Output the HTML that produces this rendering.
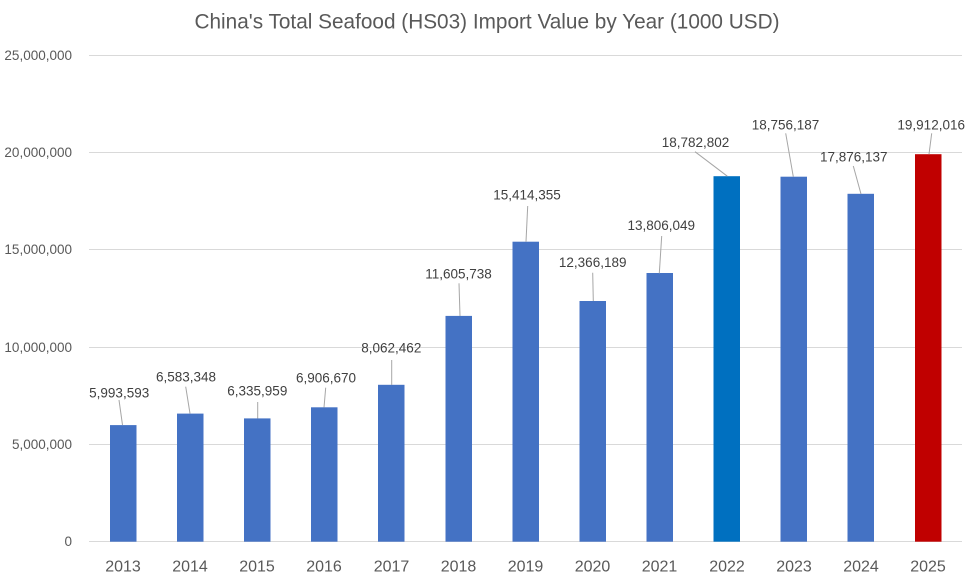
<!DOCTYPE html>
<html>
<head>
<meta charset="utf-8">
<style>
  html,body{margin:0;padding:0;background:#fff;}
  svg{display:block;}
  text{font-family:"Liberation Sans",sans-serif;}
</style>
</head>
<body>
<svg width="971" height="581" viewBox="0 0 971 581" xmlns="http://www.w3.org/2000/svg">
  <rect width="971" height="581" fill="#fff"/>
  <!-- title -->
  <text x="487" y="28.5" font-size="21" fill="#595959" text-anchor="middle" textLength="585" lengthAdjust="spacingAndGlyphs">China's Total Seafood (HS03) Import Value by Year (1000 USD)</text>

  <!-- gridlines -->
  <g stroke="#D9D9D9" stroke-width="1">
    <line x1="89" y1="55.5" x2="962" y2="55.5"/>
    <line x1="89" y1="152.5" x2="962" y2="152.5"/>
    <line x1="89" y1="249.5" x2="962" y2="249.5"/>
    <line x1="89" y1="347.5" x2="962" y2="347.5"/>
    <line x1="89" y1="444.5" x2="962" y2="444.5"/>
    <line x1="89" y1="541.5" x2="962" y2="541.5"/>
  </g>

  <!-- y axis labels -->
  <g font-size="13.5" fill="#595959" text-anchor="end">
    <text x="72" y="60">25,000,000</text>
    <text x="72" y="157">20,000,000</text>
    <text x="72" y="254">15,000,000</text>
    <text x="72" y="352">10,000,000</text>
    <text x="72" y="449">5,000,000</text>
    <text x="72" y="546">0</text>
  </g>

  <!-- bars -->
  <g>
    <rect x="110" y="425.1" width="26.5" height="116.6" fill="#4472C4"/>
    <rect x="177" y="413.6" width="26.5" height="128.1" fill="#4472C4"/>
    <rect x="244" y="418.4" width="26.5" height="123.3" fill="#4472C4"/>
    <rect x="311" y="407.3" width="26.5" height="134.4" fill="#4472C4"/>
    <rect x="378" y="384.8" width="26.5" height="156.9" fill="#4472C4"/>
    <rect x="445.5" y="315.9" width="26.5" height="225.8" fill="#4472C4"/>
    <rect x="512.5" y="241.7" width="26.5" height="300.0" fill="#4472C4"/>
    <rect x="579.5" y="301.0" width="26.5" height="240.7" fill="#4472C4"/>
    <rect x="646.5" y="273.0" width="26.5" height="268.7" fill="#4472C4"/>
    <rect x="713.5" y="176.2" width="26.5" height="365.5" fill="#0070C0"/>
    <rect x="780.5" y="176.7" width="26.5" height="365.0" fill="#4472C4"/>
    <rect x="847.5" y="193.8" width="26.5" height="347.9" fill="#4472C4"/>
    <rect x="915" y="154.2" width="26.5" height="387.5" fill="#C00000"/>
  </g>

  <!-- leader lines -->
  <g stroke="#A6A6A6" stroke-width="1" fill="none">
    <line x1="119" y1="400" x2="122.5" y2="425"/>
    <line x1="185.7" y1="386.7" x2="190" y2="413.5"/>
    <line x1="257.7" y1="402" x2="257.7" y2="418.5"/>
    <line x1="325.7" y1="387.7" x2="324" y2="407.5"/>
    <line x1="391.7" y1="360" x2="391.7" y2="385"/>
    <line x1="459" y1="283.3" x2="460" y2="316"/>
    <line x1="527.7" y1="206" x2="526" y2="241.7"/>
    <line x1="592.7" y1="272.7" x2="593.3" y2="301"/>
    <line x1="661.7" y1="236" x2="659.3" y2="273.3"/>
    <line x1="695" y1="151.7" x2="727.3" y2="176.2"/>
    <line x1="785.7" y1="133.3" x2="793.3" y2="176.7"/>
    <line x1="853.3" y1="166" x2="861" y2="194"/>
    <line x1="931.7" y1="133.3" x2="929" y2="154.2"/>
  </g>

  <!-- data labels -->
  <g font-size="13.5" fill="#404040" text-anchor="middle">
    <text x="119.2" y="397.3">5,993,593</text>
    <text x="186" y="381.7">6,583,348</text>
    <text x="257.3" y="395.7">6,335,959</text>
    <text x="326" y="382.7">6,906,670</text>
    <text x="391.3" y="352.7">8,062,462</text>
    <text x="458.5" y="278.3">11,605,738</text>
    <text x="527" y="199.5">15,414,355</text>
    <text x="592.7" y="267">12,366,189</text>
    <text x="661.3" y="229.8">13,806,049</text>
    <text x="695.5" y="146.8">18,782,802</text>
    <text x="785.5" y="129.4">18,756,187</text>
    <text x="853.8" y="161.7">17,876,137</text>
    <text x="931.2" y="129.4">19,912,016</text>
  </g>

  <!-- x axis labels -->
  <g font-size="16" fill="#595959" text-anchor="middle">
    <text x="123" y="571.7">2013</text>
    <text x="190" y="571.7">2014</text>
    <text x="257" y="571.7">2015</text>
    <text x="324" y="571.7">2016</text>
    <text x="391.5" y="571.7">2017</text>
    <text x="458.5" y="571.7">2018</text>
    <text x="525.5" y="571.7">2019</text>
    <text x="592.5" y="571.7">2020</text>
    <text x="659.5" y="571.7">2021</text>
    <text x="727" y="571.7">2022</text>
    <text x="794" y="571.7">2023</text>
    <text x="861" y="571.7">2024</text>
    <text x="928" y="571.7">2025</text>
  </g>
</svg>
</body>
</html>
